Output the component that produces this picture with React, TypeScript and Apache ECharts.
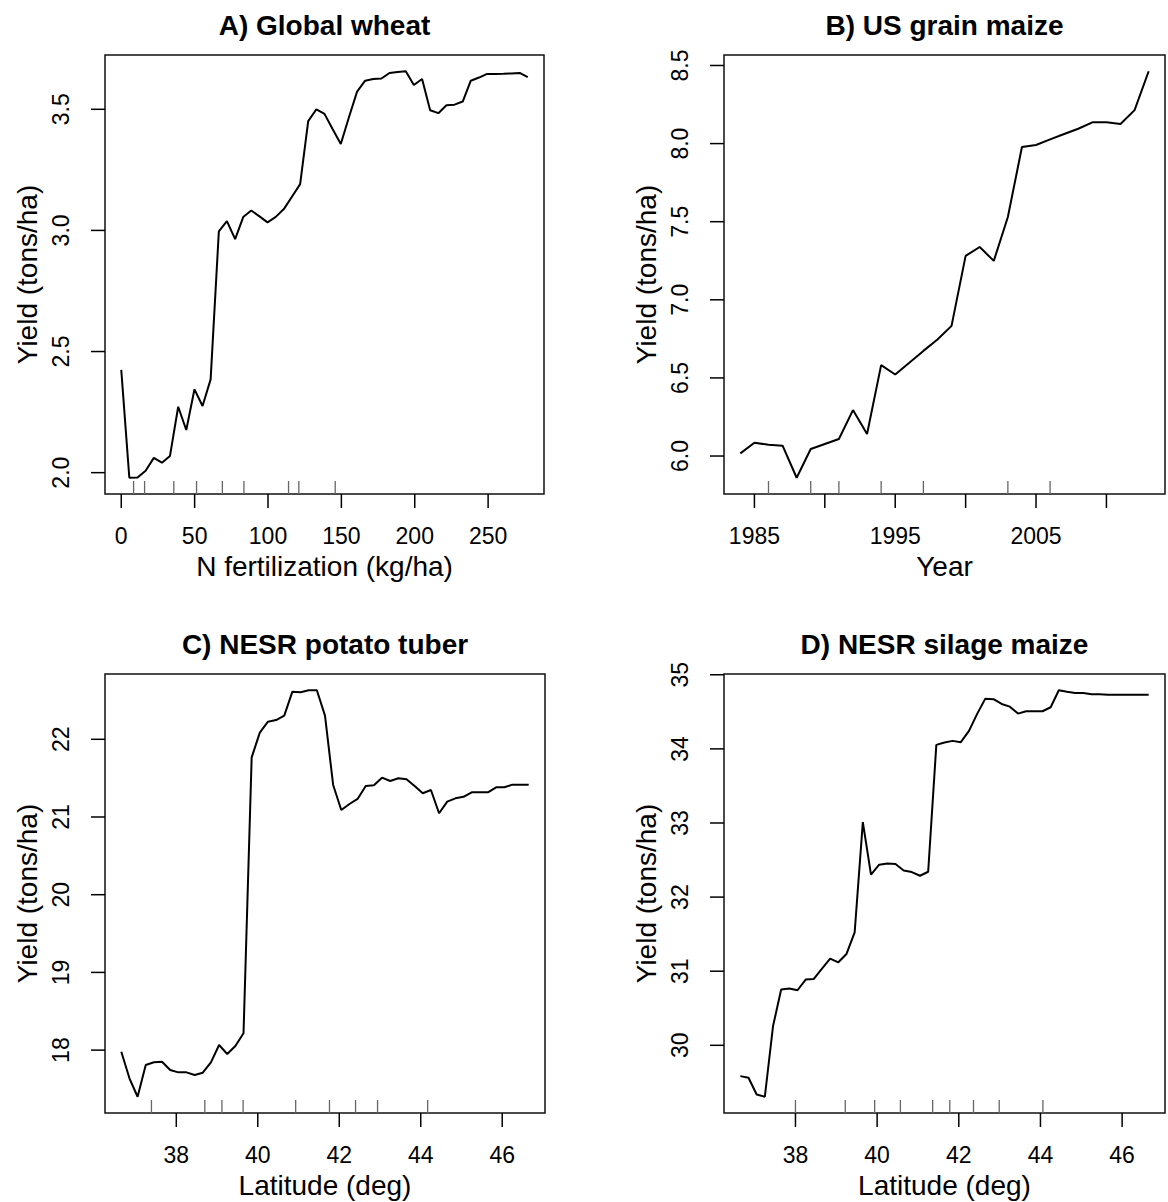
import React, { useEffect, useRef } from "react";
import * as echarts from "echarts";

// ---------- data ----------
const wheatN = [
  0, 5.5, 11.1, 16.6, 22.2, 27.7, 33.2, 38.8, 44.3, 49.9, 55.4, 60.9, 66.5, 72.0, 77.6, 83.1, 88.6,
  94.2, 99.7, 105.3, 110.8, 116.3, 121.9, 127.4, 133.0, 138.5, 144.0, 149.6, 155.1, 160.7, 166.2,
  171.7, 177.3, 182.8, 188.4, 193.9, 199.4, 205.0, 210.5, 216.1, 221.6, 227.1, 232.7, 238.2, 243.8,
  249.3, 254.8, 260.4, 265.9, 271.5, 277.0,
];
const wheatYield = [
  2.424, 1.979, 1.98, 2.008, 2.061, 2.041, 2.069, 2.272, 2.176, 2.344, 2.275, 2.385, 2.996, 3.038,
  2.964, 3.055, 3.082, 3.058, 3.033, 3.056, 3.088, 3.139, 3.191, 3.451, 3.5, 3.481, 3.419, 3.357,
  3.466, 3.573, 3.618, 3.625, 3.627, 3.65, 3.654, 3.657, 3.6, 3.625, 3.496, 3.484, 3.517, 3.519,
  3.532, 3.618, 3.631, 3.646, 3.646, 3.647, 3.648, 3.65, 3.633,
];
const wheatRug = [8.4, 15.9, 35.8, 51.3, 68.9, 83.6, 114.0, 121.0, 145.8];

const maizeYears = [
  1984, 1985, 1986, 1987, 1988, 1989, 1990, 1991, 1992, 1993, 1994, 1995, 1996, 1997, 1998, 1999,
  2000, 2001, 2002, 2003, 2004, 2005, 2006, 2007, 2008, 2009, 2010, 2011, 2012, 2013,
];
const maizeYield = [
  6.017, 6.085, 6.072, 6.066, 5.861, 6.045, 6.077, 6.109, 6.294, 6.141, 6.582, 6.522, 6.597, 6.673,
  6.746, 6.833, 7.281, 7.338, 7.249, 7.53, 7.978, 7.991, 8.027, 8.061, 8.095, 8.136, 8.136, 8.125,
  8.214, 8.463,
];
const maizeRug = [1986, 1989, 1991, 1994, 1997, 2003, 2006];

const latitudes = [
  36.65, 36.85, 37.05, 37.25, 37.45, 37.65, 37.85, 38.05, 38.25, 38.45, 38.65, 38.85, 39.05, 39.25,
  39.45, 39.65, 39.85, 40.05, 40.25, 40.45, 40.65, 40.85, 41.05, 41.25, 41.45, 41.65, 41.85, 42.05,
  42.25, 42.45, 42.65, 42.85, 43.05, 43.25, 43.45, 43.65, 43.85, 44.05, 44.25, 44.45, 44.65, 44.85,
  45.05, 45.25, 45.45, 45.65, 45.85, 46.05, 46.25, 46.45, 46.65,
];
const potatoYield = [
  17.98, 17.637, 17.4, 17.808, 17.843, 17.851, 17.744, 17.714, 17.714, 17.68, 17.709, 17.843,
  18.066, 17.95, 18.053, 18.216, 21.768, 22.085, 22.227, 22.248, 22.304, 22.613, 22.605, 22.631,
  22.631, 22.304, 21.412, 21.09, 21.167, 21.232, 21.399, 21.408, 21.506, 21.463, 21.498, 21.485,
  21.399, 21.305, 21.347, 21.048, 21.197, 21.24, 21.26, 21.318, 21.318, 21.318, 21.382, 21.382,
  21.416, 21.416, 21.416,
];
const potatoRug = [37.39, 38.7, 39.12, 39.64, 40.93, 41.76, 42.4, 42.94, 44.17];

const silageYield = [
  29.584, 29.562, 29.337, 29.306, 30.257, 30.752, 30.766, 30.743, 30.887, 30.896, 31.035, 31.17,
  31.12, 31.233, 31.525, 33.012, 32.302, 32.437, 32.454, 32.446, 32.36, 32.338, 32.288, 32.342,
  34.054, 34.085, 34.108, 34.09, 34.243, 34.472, 34.678, 34.67, 34.606, 34.57, 34.476, 34.508,
  34.508, 34.508, 34.562, 34.791, 34.772, 34.755, 34.755, 34.737, 34.737, 34.732, 34.732, 34.732,
  34.732, 34.732, 34.732,
];
const silageRug = [38.0, 39.22, 39.94, 40.57, 41.36, 41.78, 42.36, 42.99, 44.06];

const panelTitles = ["A) Global wheat", "B) US grain maize", "C) NESR potato tuber", "D) NESR silage maize"];
const xTitles = ["N fertilization (kg/ha)", "Year", "Latitude (deg)", "Latitude (deg)"];
const yTitle = "Yield (tons/ha)";
const xTickValues = [
  [0, 50, 100, 150, 200, 250],
  [1985, 1990, 1995, 2000, 2005, 2010],
  [38, 40, 42, 44, 46],
  [38, 40, 42, 44, 46],
];
const xLabelValues = [
  [0, 50, 100, 150, 200, 250],
  [1985, 1995, 2005],
  [38, 40, 42, 44, 46],
  [38, 40, 42, 44, 46],
];
const yTickValues = [
  [2.0, 2.5, 3.0, 3.5],
  [6.0, 6.5, 7.0, 7.5, 8.0, 8.5],
  [18, 19, 20, 21, 22],
  [30, 31, 32, 33, 34, 35],
];
const yDecimals = [1, 1, 0, 0];

// ---------- layout ----------
const FONT = "'Liberation Sans', Arial, sans-serif";
const TICK = 14;
const grids = [
  { left: 105, top: 55, width: 439, height: 439 },
  { left: 724, top: 55, width: 441, height: 439 },
  { left: 105, top: 674, width: 440, height: 439 },
  { left: 724, top: 674, width: 441, height: 439 },
];

function ext(arr: number[]) {
  const lo = Math.min(...arr);
  const hi = Math.max(...arr);
  const r = hi - lo;
  return [lo - 0.04 * r, hi + 0.04 * r];
}

function segSeries(k: number, data: number[][], dx: number, dy: number, color: string, width: number) {
  return {
    type: "custom",
    xAxisIndex: k,
    yAxisIndex: k,
    data,
    silent: true,
    clip: false,
    renderItem: (params: any, api: any) => {
      const p = api.coord([api.value(0), api.value(1)]);
      return {
        type: "line",
        shape: { x1: p[0], y1: p[1], x2: p[0] + dx, y2: p[1] + dy },
        style: { stroke: color, lineWidth: width },
      };
    },
  };
}

export default function App() {
  const ref = useRef<HTMLDivElement>(null);
  useEffect(() => {
    if (!ref.current) return;
    const chart = echarts.init(ref.current, undefined, { renderer: "svg" });
    const xs = [wheatN, maizeYears, latitudes, latitudes];
    const ys = [wheatYield, maizeYield, potatoYield, silageYield];
    const rugs = [wheatRug, maizeRug, potatoRug, silageRug];

    const xAxis: any[] = [];
    const yAxis: any[] = [];
    const series: any[] = [];
    const graphic: any[] = [];

    for (let k = 0; k < 4; k++) {
      const [xmin, xmax] = ext(xs[k]);
      const [ymin, ymax] = ext(ys[k]);
      xAxis.push({
        type: "value",
        gridIndex: k,
        position: "bottom",
        min: xmin,
        max: xmax,
        axisLine: { show: false, onZero: false },
        splitLine: { show: false },
        axisTick: { show: false },
        axisLabel: {
          customValues: xLabelValues[k],
          fontSize: 23,
          fontFamily: FONT,
          color: "#000",
          margin: 30,
          formatter: (v: number) => String(v),
        },
        name: xTitles[k],
        nameLocation: "middle",
        nameGap: 58,
        nameTextStyle: { fontSize: 28, fontFamily: FONT, color: "#000" },
      });
      yAxis.push({
        type: "value",
        gridIndex: k,
        position: "left",
        min: ymin,
        max: ymax,
        axisLine: { show: false, onZero: false },
        splitLine: { show: false },
        axisTick: { show: false },
        axisLabel: {
          customValues: yTickValues[k],
          rotate: 90,
          fontSize: 23,
          fontFamily: FONT,
          color: "#000",
          margin: 33,
          formatter: (v: number) => v.toFixed(yDecimals[k]),
        },
        name: yTitle,
        nameLocation: "middle",
        nameRotate: 90,
        nameGap: 64,
        nameTextStyle: { fontSize: 28, fontFamily: FONT, color: "#000" },
      });
      series.push({
        type: "line",
        xAxisIndex: k,
        yAxisIndex: k,
        data: xs[k].map((x, i) => [x, ys[k][i]]),
        showSymbol: false,
        symbol: "none",
        lineStyle: { color: "#000", width: 2 },
        silent: true,
      });
      // rug marks (inside, gray)
      series.push(segSeries(k, rugs[k].map((v) => [v, ymin]), 0, -13, "#666", 1.3));
      // x-axis ticks (outside)
      series.push(segSeries(k, xTickValues[k].map((v) => [v, ymin]), 0, TICK, "#000", 1.5));
      // y-axis ticks (outside)
      series.push(segSeries(k, yTickValues[k].map((v) => [xmin, v]), -TICK, 0, "#000", 1.5));

      const g = grids[k];
      graphic.push({
        type: "text",
        x: g.left + g.width / 2,
        y: g.top - 30,
        style: {
          text: panelTitles[k],
          fontSize: 28,
          fontWeight: "bold",
          fontFamily: FONT,
          fill: "#000",
          align: "center",
          verticalAlign: "middle",
        },
      });
    }

    chart.setOption({
      animation: false,
      backgroundColor: "#fff",
      grid: grids.map((g) => ({
        ...g,
        show: true,
        borderColor: "#111",
        borderWidth: 1.5,
        backgroundColor: "transparent",
        containLabel: false,
      })),
      xAxis,
      yAxis,
      series,
      graphic,
    });
    return () => chart.dispose();
  }, []);
  return (
    <div
      ref={ref}
      style={{ position: "absolute", left: 0, top: 0, width: 1168, height: 1202, background: "#fff" }}
    />
  );
}
